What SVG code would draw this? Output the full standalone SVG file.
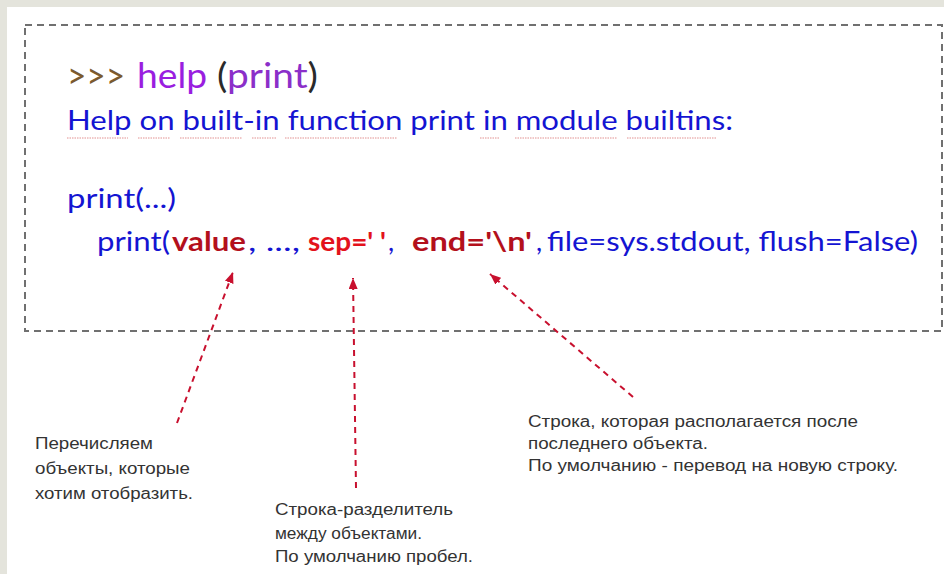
<svg xmlns="http://www.w3.org/2000/svg" width="944" height="574" viewBox="0 0 944 574">
<defs>
<style>
.code{font-family:Lato,"Open Sans","Liberation Sans",sans-serif;}
.blue{fill:#1414d2;}
.dred{fill:#b3101c;font-weight:bold;}
.bred{fill:#e3121c;font-weight:bold;}
.note{font-family:"Liberation Sans",Arial,sans-serif;font-size:16px;fill:#333;}
.conn{fill:none;stroke:#c8102e;stroke-width:2;stroke-dasharray:6 5;}
.squig{stroke:#d04848;stroke-width:1;stroke-dasharray:1.5 1;opacity:0.6;}
</style>
<marker id="ah" markerUnits="userSpaceOnUse" markerWidth="12" markerHeight="10" refX="11" refY="4.5" orient="auto">
<path d="M0,0 L11,4.5 L0,9 z" fill="#c8102e"/>
</marker>
</defs>
<rect x="0" y="0" width="944" height="574" fill="#e4e4dc"/>
<rect x="7" y="7" width="937" height="567" fill="#ffffff"/>
<g id="codebox">
<rect x="25" y="25" width="917" height="306" fill="none" stroke="#707070" stroke-width="2" stroke-dasharray="7 5"/>
<text class="code" x="67" y="88" font-size="35" fill="#7b5a2e" textLength="58" lengthAdjust="spacingAndGlyphs">&gt;&gt;&gt;</text>
<text class="code" x="137" y="88" font-size="35" fill="#9a1ee0" textLength="70" lengthAdjust="spacingAndGlyphs">help</text>
<text class="code" x="217" y="88" font-size="35" fill="#2a2a2a" textLength="101" lengthAdjust="spacingAndGlyphs">(<tspan fill="#8b2fc9">print</tspan>)</text>
<text class="code blue" x="67" y="130" font-size="27" textLength="666" lengthAdjust="spacingAndGlyphs">Help on built-in function print in module builtins:</text>
<g>
<line class="squig" x1="67" y1="138" x2="128" y2="138"/>
<line class="squig" x1="138" y1="138" x2="170" y2="138"/>
<line class="squig" x1="180" y1="138" x2="242" y2="138"/>
<line class="squig" x1="252" y1="138" x2="277" y2="138"/>
<line class="squig" x1="285" y1="138" x2="397" y2="138"/>
<line class="squig" x1="480" y1="138" x2="500" y2="138"/>
<line class="squig" x1="515" y1="138" x2="617" y2="138"/>
<line class="squig" x1="627" y1="138" x2="717" y2="138"/>
</g>
<text class="code blue" x="67" y="208" font-size="27" textLength="109" lengthAdjust="spacingAndGlyphs">print(...)</text>
<text class="code blue" x="97" y="251" font-size="27" textLength="73" lengthAdjust="spacingAndGlyphs">print(</text>
<text class="code dred" x="172" y="251" font-size="27" textLength="74" lengthAdjust="spacingAndGlyphs">value</text>
<text class="code blue" x="248" y="251" font-size="27" textLength="52" lengthAdjust="spacingAndGlyphs">, ...,</text>
<text class="code bred" x="308" y="251" font-size="27" textLength="78" lengthAdjust="spacingAndGlyphs">sep=' '</text>
<text class="code blue" x="388" y="251" font-size="27">,</text>
<text class="code dred" x="412" y="251" font-size="27" textLength="120" lengthAdjust="spacingAndGlyphs">end='\n'</text>
<text class="code blue" x="536" y="251" font-size="27">,</text>
<text class="code blue" x="547" y="251" font-size="27" textLength="371" lengthAdjust="spacingAndGlyphs">file=sys.stdout, flush=False)</text>
</g>
<g id="note-value">
<text class="note" x="35" y="449" textLength="118" lengthAdjust="spacingAndGlyphs">Перечисляем</text>
<text class="note" x="35" y="474" textLength="155" lengthAdjust="spacingAndGlyphs">объекты, которые</text>
<text class="note" x="35" y="499" textLength="158" lengthAdjust="spacingAndGlyphs">хотим отобразить.</text>
</g>
<g id="note-sep">
<text class="note" x="275" y="515" textLength="178" lengthAdjust="spacingAndGlyphs">Строка-разделитель</text>
<text class="note" x="275" y="539" textLength="147" lengthAdjust="spacingAndGlyphs">между объектами.</text>
<text class="note" x="275" y="562" textLength="198" lengthAdjust="spacingAndGlyphs">По умолчанию пробел.</text>
</g>
<g id="note-end">
<text class="note" x="528" y="427" textLength="330" lengthAdjust="spacingAndGlyphs">Строка, которая располагается после</text>
<text class="note" x="528" y="449" textLength="180" lengthAdjust="spacingAndGlyphs">последнего объекта.</text>
<text class="note" x="528" y="471" textLength="370" lengthAdjust="spacingAndGlyphs">По умолчанию - перевод на новую строку.</text>
</g>
<g id="connectors">
<line class="conn" x1="177" y1="423" x2="233" y2="272" marker-end="url(#ah)"/>
<line class="conn" x1="356" y1="488" x2="353" y2="278" marker-end="url(#ah)"/>
<line class="conn" x1="633" y1="397" x2="490" y2="274" marker-end="url(#ah)"/>
</g>
</svg>
